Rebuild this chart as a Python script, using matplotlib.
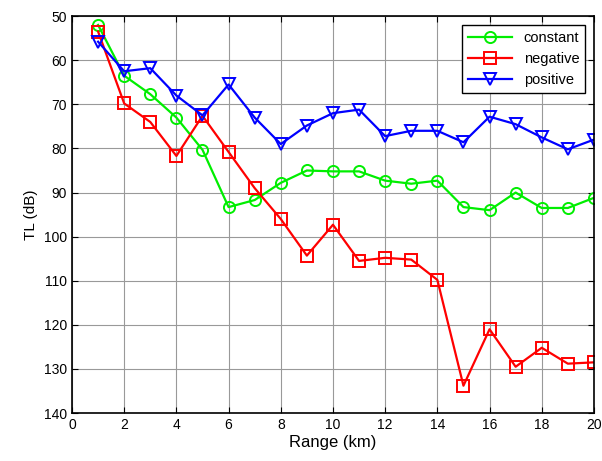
import numpy as np
import matplotlib.pyplot as plt

plt.rcParams['font.family'] = ['Liberation Sans', 'DejaVu Sans']

rng = np.arange(1, 21)
tl_constant = [52.0, 63.5, 67.7, 73.0, 80.3, 93.3, 91.7, 87.8, 85.0, 85.2,
               85.2, 87.3, 88.0, 87.3, 93.3, 94.0, 90.0, 93.5, 93.5, 91.2]
tl_negative = [53.5, 69.8, 74.0, 81.7, 72.6, 80.8, 89.0, 96.0, 104.3, 97.3,
               105.5, 104.8, 105.2, 109.8, 133.8, 121.0, 129.5, 125.2, 128.8, 128.5]
tl_positive = [55.8, 62.5, 61.8, 68.0, 72.5, 65.5, 73.0, 79.0, 74.8, 72.0,
               71.2, 77.2, 76.0, 76.0, 78.6, 72.8, 74.5, 77.5, 80.2, 78.0]

fig = plt.figure(figsize=(6.02, 4.61), dpi=100)
ax = fig.add_axes([0.1196, 0.104, 0.867, 0.861])

ax.plot(rng, tl_constant, '-o', color='#00ee00', lw=1.6, ms=8, mfc='none', mew=1.4, label='constant')
ax.plot(rng, tl_negative, '-s', color='#ff0000', lw=1.6, ms=8, mfc='none', mew=1.4, label='negative')
ax.plot(rng, tl_positive, '-v', color='#0000ff', lw=1.6, ms=8, mfc='none', mew=1.4, label='positive')

ax.set_xlim(0, 20)
ax.set_ylim(140, 50)
ax.set_xticks(np.arange(0, 21, 2))
ax.set_yticks(np.arange(50, 141, 10))
ax.tick_params(direction='in', length=4, labelsize=10, top=True, right=True, width=0.8)
ax.grid(True, color='#999999', lw=0.8)
for s in ax.spines.values():
    s.set_linewidth(1.2)

ax.set_xlabel('Range (km)', fontsize=12, labelpad=2)
ax.set_ylabel('TL (dB)', fontsize=11)

leg = ax.legend(loc='upper right', fontsize=10.5, fancybox=False, framealpha=1,
                edgecolor='black', borderaxespad=0.6, handlelength=3)
leg.get_frame().set_linewidth(1.0)

fig.savefig('out.png', dpi=100)
